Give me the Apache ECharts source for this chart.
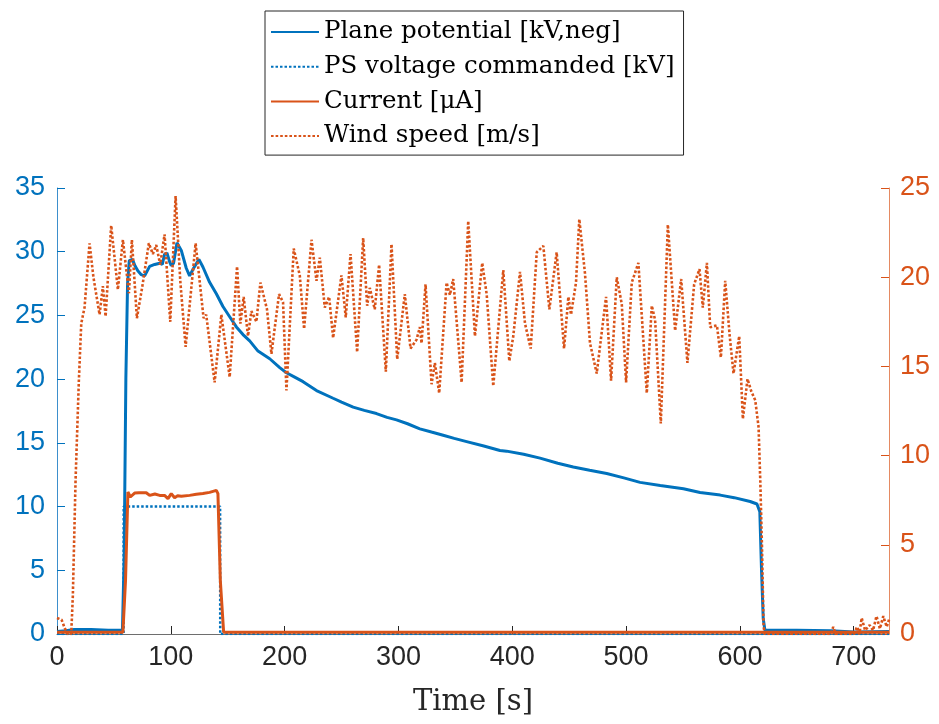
<!DOCTYPE html>
<html>
<head>
<meta charset="utf-8">
<script src="https://cdn.jsdelivr.net/npm/echarts@6/dist/echarts.min.js"></script>
<style>html,body{margin:0;padding:0;background:#fff}#c{width:939px;height:724px}</style>
</head>
<body>
<div id="c"></div>
<script>
// ---- data ----
const seriesNames = ['Plane potential [kV,neg]', 'PS voltage commanded [kV]', 'Current [μA]', 'Wind speed [m/s]'];
const xTicks = [0, 100, 200, 300, 400, 500, 600, 700];
const leftTicks = [0, 5, 10, 15, 20, 25, 30, 35];
const rightTicks = [0, 5, 10, 15, 20, 25];

const potT = [0, 8, 15, 30, 45, 57.5, 59, 60.5, 62, 63.5, 66.3, 68.5, 71, 74, 77, 81.4, 85.8, 90.2, 92.5, 94.5, 96.6, 99, 100.4, 102.4, 105.4, 109.2, 113.6, 116.5, 120, 124.7, 128.2, 134.1, 140, 145.8, 151.7, 157.6, 163.4, 169.3, 176.6, 186.9, 195.7, 201.6, 208, 216.2, 228, 242.6, 250, 260.2, 270, 280.7, 290, 298.3, 308, 318.8, 329, 339.3, 349, 359.9, 375, 389.2, 395, 410, 424.4, 440, 453.6, 468, 483, 498, 512.3, 530, 550.4, 565, 582.7, 595, 609, 615, 617.5, 619, 620.5, 622, 650, 680, 700, 731];
const potV = [0.2, 0.25, 0.35, 0.35, 0.3, 0.3, 6, 20, 27.5, 29.3, 29.4, 28.9, 28.5, 28.2, 28.1, 28.85, 29.0, 29.1, 29.0, 29.8, 29.9, 29.2, 28.9, 29.1, 30.7, 30.1, 28.7, 28.1, 28.7, 29.4, 28.8, 27.6, 26.7, 25.7, 24.9, 24.1, 23.5, 23.0, 22.2, 21.6, 20.9, 20.5, 20.2, 19.8, 19.1, 18.5, 18.2, 17.8, 17.55, 17.3, 17.0, 16.8, 16.5, 16.1, 15.85, 15.6, 15.35, 15.1, 14.75, 14.4, 14.35, 14.1, 13.8, 13.4, 13.1, 12.85, 12.6, 12.25, 11.9, 11.65, 11.4, 11.1, 10.9, 10.7, 10.4, 10.2, 9.6, 5, 1.2, 0.3, 0.3, 0.25, 0.15, 0.2];

const psT = [0, 58.5, 58.6, 143.3, 143.4, 731];
const psV = [0, 0, 10, 10, 0, 0];

const curT = [0, 57.9, 60.2, 62.3, 64.4, 68.2, 72, 78.4, 81.4, 86, 90.2, 94.5, 97.5, 100.4, 103.3, 106, 109.2, 116.5, 122.4, 128.2, 134.1, 140, 141.4, 143.5, 146.4, 731];
const curI = [0.1, 0.1, 3.0, 7.96, 7.68, 7.9, 7.92, 7.92, 7.77, 7.85, 7.77, 7.77, 7.59, 7.87, 7.64, 7.75, 7.72, 7.77, 7.83, 7.87, 7.94, 8.05, 7.87, 3.0, 0.1, 0.1];

const windT = [0, 4, 7, 9.5, 12.5, 13.9, 16.3, 19.2, 21.3, 24.2, 28.6, 32, 37.4, 40.3, 42.7, 47.6, 53.5, 57.9, 63.2, 65.8, 70.2, 75, 80.7, 84.2, 87.2, 90.7, 94.5, 99.5, 104.2, 108.3, 113, 121.8, 128.8, 131.1, 138.5, 144.4, 151.7, 158.2, 161.1, 164, 167.8, 170.8, 175.2, 178.7, 184.5, 188.4, 195.1, 198.6, 201.6, 208, 213.3, 217.1, 223.6, 228, 230.9, 235.3, 239.1, 242.6, 249.9, 253.7, 257.9, 263.7, 269, 272.5, 274.8, 279.2, 283, 288.9, 293.9, 298.9, 305.6, 310.6, 315.9, 318.8, 320.3, 323.8, 329.1, 332, 335.8, 342.3, 345.2, 348.1, 355.5, 361.3, 367.2, 373.6, 377.5, 383.3, 392.1, 397.4, 400.9, 406.8, 411.2, 416.2, 421.5, 427.3, 432.6, 439, 445.5, 449.3, 451.6, 456, 458.9, 463.9, 468.3, 474.2, 482.4, 486.8, 491.8, 496.2, 500, 505, 510.8, 518.2, 522.6, 525.5, 530.5, 536.7, 543.1, 548.4, 553.9, 559.8, 564.5, 567.4, 571, 573.9, 579.8, 583.3, 587.1, 590.9, 594.4, 599.4, 602.6, 606.7, 610, 613.5, 616.4, 617.9, 619.4, 620.8, 622, 680, 682, 684, 700, 703, 705, 707, 710, 714, 717, 720, 723, 726, 729, 731];
const windW = [0.9, 0.8, 0.3, 0, 0, 2.1, 8.6, 14.2, 17.4, 18.3, 21.9, 20, 17.9, 19.5, 17.8, 22.9, 19.3, 22.1, 19.1, 22.1, 17.7, 19.5, 21.9, 21.3, 21.8, 20.7, 22.4, 17.5, 24.55, 19.8, 16.1, 21.9, 17.7, 17.9, 14.1, 17.9, 14.4, 20.6, 17.4, 18.9, 16.7, 18.1, 17.5, 19.7, 18.2, 15.7, 19.05, 18.6, 13.65, 21.6, 20.1, 17.1, 22.1, 19.8, 21.1, 18.3, 18.9, 16.6, 20.1, 17.75, 21.3, 15.8, 22.2, 18.4, 19.4, 18.2, 20.7, 14.7, 21.85, 15.4, 19.05, 16.0, 16.5, 17.2, 16.3, 19.6, 14.0, 15.2, 13.5, 19.7, 19.0, 19.9, 14.1, 23.15, 16.7, 20.8, 19.05, 13.9, 20.4, 15.3, 16.7, 20.3, 17.4, 16.0, 21.4, 21.75, 18.2, 21.4, 16.0, 18.9, 17.9, 19.7, 23.25, 20.2, 16.3, 14.6, 18.9, 14.2, 20.0, 18.5, 14.1, 19.7, 20.8, 13.5, 18.4, 17.6, 11.8, 22.95, 17.0, 19.9, 15.2, 19.6, 20.45, 18.3, 20.8, 17.2, 17.3, 15.5, 19.8, 16.8, 14.6, 16.7, 12.06, 14.3, 13.6, 13.1, 11.6, 8.6, 4.9, 0.4, 0, 0, 0.4, 0, 0, 0.4, 0, 0.9, 0.2, 0.5, 0.2, 1.0, 0.3, 1.0, 0.4, 0.8];

// ---- build ----
const pairs = (xs, ys) => xs.map((x, i) => [x, ys[i]]);
const BLUE = '#0072BD', ORANGE = '#D95319', DARK = '#262626';
const tickFont = 'Liberation Sans, Arial, Helvetica, sans-serif';
const serifFont = 'DejaVu Serif, serif';

const chart = echarts.init(document.getElementById('c'), null, { renderer: 'canvas' });
chart.setOption({
  animation: false,
  backgroundColor: '#fff',
  grid: { left: 57, right: 50, top: 188, bottom: 90, containLabel: false, outerBoundsMode: 'none' },
  legend: {
    orient: 'vertical', left: 265, top: 11,
    padding: [7, 9, 5, 5],
    itemWidth: 48, itemHeight: 2, itemGap: 6.7,
    borderColor: DARK, borderWidth: 1, backgroundColor: '#fff',
    itemStyle: { opacity: 0 },
    textStyle: { fontFamily: serifFont, fontSize: 24.5, color: '#000', lineHeight: 28 },
    data: seriesNames
  },
  xAxis: {
    type: 'value', min: 0, max: 731, interval: 100,
    name: 'Time [s]', nameLocation: 'middle', nameGap: 54,
    nameTextStyle: { fontFamily: serifFont, fontSize: 29, color: DARK },
    axisLine: { show: true, onZero: false, lineStyle: { color: '#6e6e6e', width: 1 } },
    axisTick: { show: true, inside: true, length: 8, lineStyle: { color: DARK } },
    axisLabel: { fontFamily: tickFont, fontSize: 27, color: DARK, margin: 10, showMaxLabel: false,
      formatter: v => (xTicks.indexOf(v) >= 0 ? String(v) : '') },
    splitLine: { show: false }
  },
  yAxis: [
    {
      type: 'value', position: 'left', min: 0, max: 35, interval: 5,
      axisLine: { show: true, lineStyle: { color: '#3d8fcc', width: 1 } },
      axisTick: { show: true, inside: true, length: 8, lineStyle: { color: BLUE } },
      axisLabel: { fontFamily: tickFont, fontSize: 27, color: BLUE, margin: 12,
        formatter: v => (leftTicks.indexOf(v) >= 0 ? String(v) : '') },
      splitLine: { show: false }
    },
    {
      type: 'value', position: 'right', min: 0, max: 25, interval: 5,
      axisLine: { show: true, lineStyle: { color: '#e58a62', width: 1 } },
      axisTick: { show: true, inside: true, length: 8, lineStyle: { color: ORANGE } },
      axisLabel: { fontFamily: tickFont, fontSize: 27, color: ORANGE, margin: 11,
        formatter: v => (rightTicks.indexOf(v) >= 0 ? String(v) : '') },
      splitLine: { show: false }
    }
  ],
  series: [
    { name: seriesNames[0], type: 'line', yAxisIndex: 0, data: pairs(potT, potV), symbol: 'none',
      lineStyle: { color: BLUE, width: 3 }, itemStyle: { color: BLUE }, z: 2 },
    { name: seriesNames[1], type: 'line', yAxisIndex: 0, data: pairs(psT, psV), symbol: 'none',
      lineStyle: { color: BLUE, width: 2.5, type: [2.5, 2] }, itemStyle: { color: BLUE }, z: 2 },
    { name: seriesNames[2], type: 'line', yAxisIndex: 1, data: pairs(curT, curI), symbol: 'none',
      lineStyle: { color: ORANGE, width: 3 }, itemStyle: { color: ORANGE }, z: 3 },
    { name: seriesNames[3], type: 'line', yAxisIndex: 1, data: pairs(windT, windW), symbol: 'none',
      lineStyle: { color: ORANGE, width: 2.6, type: [2.6, 2] }, itemStyle: { color: ORANGE }, z: 3 }
  ]
});
</script>
</body>
</html>
